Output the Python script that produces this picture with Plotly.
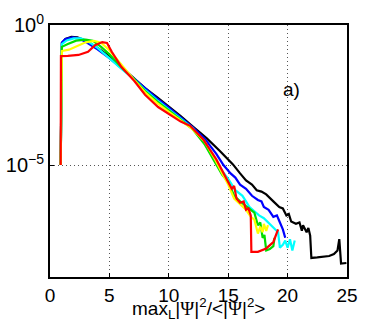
import plotly.graph_objects as go

# curves: x positions and log10 of the probability
black_x = [0.9, 1.0, 1.3, 1.8, 2.3, 3, 4, 5, 6, 7.1, 8, 9, 10, 11, 12, 13.2, 14.3, 15.4, 16.0, 16.5, 17, 17.4, 17.8, 18.2, 18.8, 19.3, 19.6, 19.9, 20.1, 20.3, 20.7, 21.0, 21.2, 21.3, 21.6, 21.75, 21.9, 22.0, 22.5, 23, 23.5, 23.9, 24.2, 24.35, 24.5, 24.95]
black_e = [-5, -0.65, -0.5, -0.42, -0.44, -0.55, -0.82, -1.12, -1.5, -1.92, -2.25, -2.58, -2.9, -3.25, -3.62, -4.05, -4.5, -4.98, -5.3, -5.55, -5.7, -5.9, -5.95, -6.05, -6.3, -6.5, -6.55, -6.8, -6.75, -7.02, -7.1, -7.05, -7.35, -7.15, -7.4, -7.25, -7.52, -8.32, -8.3, -8.28, -8.25, -8.18, -8.05, -7.65, -8.52, -8.5]

blue_x = [0.9, 1.0, 1.3, 1.9, 2.4, 3, 4, 5, 6, 7.1, 8, 9, 10, 11, 12, 13, 14, 14.6, 15.2, 15.6, 16.0, 16.5, 17.0, 17.5, 17.8, 18.0, 18.4, 18.8, 19.1, 19.3, 19.6, 19.8]
blue_e = [-5, -0.62, -0.5, -0.44, -0.47, -0.6, -0.87, -1.18, -1.53, -1.93, -2.28, -2.62, -2.95, -3.3, -3.65, -4.05, -4.6, -5.0, -5.3, -5.45, -5.7, -5.85, -6.1, -6.25, -6.3, -6.5, -6.6, -6.85, -6.8, -7.0, -7.3, -7.6]

cyan_x = [0.9, 1.0, 1.4, 2.0, 2.6, 3.2, 4, 5, 6, 7.1, 8, 9, 10, 11, 12, 13, 14.1, 15, 15.6, 16.2, 16.8, 17.2, 17.6, 18.0, 18.5, 18.9, 19.2, 19.35, 19.6, 19.8, 20.0, 20.2, 20.4, 20.6]
cyan_e = [-5, -0.68, -0.55, -0.48, -0.48, -0.58, -0.82, -1.2, -1.56, -1.94, -2.32, -2.68, -3.02, -3.35, -3.68, -4.2, -5.0, -5.5, -5.9, -6.1, -6.5, -6.65, -6.8, -6.9, -7.1, -7.25, -7.4, -7.95, -7.85, -7.7, -7.95, -7.65, -8.05, -7.7]

green_x = [0.9, 1.0, 1.5, 2.2, 3, 3.6, 4.3, 5, 6, 7.1, 8, 9, 10, 11, 12, 13, 13.9, 14.5, 15.0, 15.5, 16, 16.5, 16.9, 17.2, 17.5, 17.7, 17.9, 18.05, 18.2, 18.5, 18.8, 18.9]
green_e = [-5, -0.78, -0.68, -0.56, -0.52, -0.56, -0.78, -1.05, -1.5, -1.95, -2.36, -2.73, -3.05, -3.38, -3.72, -4.25, -4.9, -5.35, -5.6, -6.1, -6.3, -6.45, -6.6, -6.7, -7.15, -7.05, -7.6, -7.5, -8.05, -8.0, -7.9, -7.6]

yellow_x = [0.9, 1.0, 1.6, 2.3, 3, 3.7, 4.3, 5, 6, 7.1, 8, 9, 10, 11, 12, 13, 13.9, 14.5, 15.0, 15.5, 16.0, 16.5, 16.9, 17.2, 17.5, 17.7, 17.9, 18.0, 18.2, 18.35]
yellow_e = [-5, -0.93, -0.88, -0.76, -0.62, -0.57, -0.63, -0.9, -1.42, -1.97, -2.4, -2.78, -3.1, -3.4, -3.72, -4.15, -4.8, -5.3, -5.7, -6.2, -6.4, -6.6, -6.85, -6.95, -7.45, -7.2, -7.4, -7.1, -7.35, -7.15]

red_x = [0.9, 0.92, 1.5, 2.4, 3.2, 3.8, 4.4, 4.8, 5.2, 6, 7.1, 8, 9.1, 10.1, 11, 11.8, 12.9, 14, 14.9, 15.3, 15.5, 15.7, 16.0, 16.3, 16.5, 16.7, 16.9, 16.95, 17.5, 18.2, 18.8, 19.2]
red_e = [-5, -1.11, -1.1, -1.07, -0.96, -0.72, -0.61, -0.64, -0.96, -1.49, -2.0, -2.49, -2.93, -3.2, -3.45, -3.6, -4.09, -4.8, -5.5, -5.85, -5.75, -6.2, -6.35, -6.3, -6.6, -6.55, -6.8, -8.1, -8.1, -7.98, -7.75, -7.3]

x_ticks = [0, 5, 10, 15, 20, 25]
y_ticks = [1, 1e-5]
y_labels = ["10<sup>0</sup>", "10<sup>\u22125</sup>"]

series = [
    (black_x, black_e, "black"),
    (blue_x, blue_e, "#0000ff"),
    (cyan_x, cyan_e, "#00ffff"),
    (green_x, green_e, "#00dd00"),
    (yellow_x, yellow_e, "#ffff00"),
    (red_x, red_e, "#ff0000"),
]

fig = go.Figure()
for xs, es, col in series:
    fig.add_trace(go.Scatter(x=xs, y=[10 ** e for e in es], mode="lines",
                             line=dict(color=col, width=2.2), showlegend=False))

psi = '<span style="font-family:Liberation Serif">\u03a8</span>'
xtitle = "max<sub>L</sub>|" + psi + "|<sup>2</sup>/&lt;|" + psi + "|<sup>2</sup>&gt;"

fig.add_annotation(x=0.5, y=-0.124, xref="paper", yref="paper", text=xtitle,
                   showarrow=False, font=dict(size=19, color="black"),
                   xanchor="center", yanchor="middle")
fig.add_annotation(x=20.3, y=-2.3, text="a)", showarrow=False,
                   font=dict(size=19, color="black"))

fig.update_layout(
    width=383, height=334,
    margin=dict(l=50, r=36, t=25, b=57),
    paper_bgcolor="white", plot_bgcolor="white",
    font=dict(family="Liberation Sans, Arial", size=20, color="black"),
)
fig.update_xaxes(range=[0, 25], tickvals=x_ticks, ticks="inside", ticklen=4,
                 tickcolor="black", showline=True, mirror=True, linecolor="black",
                 linewidth=2, showgrid=True, gridcolor="#555", griddash="1px,3px",
                 gridwidth=1, zeroline=False, tickfont=dict(size=19),
                 automargin=False)
fig.update_yaxes(type="log", range=[-9, 0], tickvals=y_ticks, ticktext=y_labels,
                 ticks="inside", ticklen=4, tickcolor="black", showline=True,
                 mirror=True, linecolor="black", linewidth=2, showgrid=True,
                 gridcolor="#555", griddash="1px,3px", gridwidth=1, zeroline=False,
                 tickfont=dict(size=20), automargin=False)

fig.write_html("out.html", config={"displayModeBar": False},
               post_script="document.body.style.margin='0';")
